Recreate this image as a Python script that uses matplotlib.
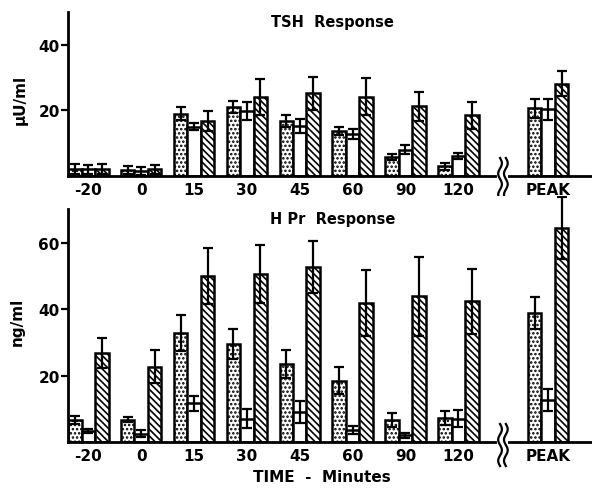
import numpy as np
import matplotlib
matplotlib.use("Agg")
import matplotlib.pyplot as plt

plt.rcParams['font.family'] = ['DejaVu Sans']
plt.rcParams['font.weight'] = 'bold'
plt.rcParams['hatch.linewidth'] = 1.2

# group labels (time points, then the peak response after the axis break)
time_labels = ['-20', '0', '15', '30', '45', '60', '90', '120', 'PEAK']
group_pos = [0, 1, 2, 3, 4, 5, 6, 7, 8.7]
break_pos = 7.79

# TSH response (uU/ml): dotted, open, hatched bars with SE
tsh_dot = [2.2, 1.8, 19.0, 21.1, 16.8, 13.7, 5.8, 2.9, 20.6]
tsh_dot_err = [1.5, 1.3, 1.9, 1.8, 1.8, 1.2, 1.0, 1.2, 2.8]
tsh_open = [2.0, 1.5, 15.0, 19.8, 15.2, 12.7, 8.0, 6.1, 20.3]
tsh_open_err = [1.4, 1.2, 1.1, 2.8, 2.1, 1.5, 1.4, 1.0, 3.1]
tsh_hat = [2.2, 2.0, 16.8, 24.1, 25.2, 24.2, 21.3, 18.5, 28.2]
tsh_hat_err = [1.5, 1.3, 3.0, 5.4, 5.1, 5.7, 4.4, 4.1, 3.9]

# HPr response (ng/ml)
hpr_dot = [6.5, 6.7, 32.7, 29.6, 23.5, 18.5, 6.7, 7.2, 38.7]
hpr_dot_err = [1.2, 0.8, 5.4, 4.5, 4.1, 4.0, 2.1, 2.1, 4.8]
hpr_open = [3.3, 2.5, 11.6, 7.0, 9.1, 3.5, 2.0, 7.0, 12.6]
hpr_open_err = [0.7, 1.0, 2.2, 2.8, 3.3, 1.2, 0.7, 2.6, 3.3]
hpr_hat = [26.8, 22.7, 49.9, 50.6, 52.6, 41.8, 43.8, 42.3, 64.3]
hpr_hat_err = [4.5, 5.1, 8.5, 8.8, 7.8, 9.8, 12.0, 9.8, 9.3]

W, H = 592, 489
fig = plt.figure(figsize=(W / 100, H / 100), dpi=100)
ax1 = fig.add_axes([68 / W, 312 / H, (W - 68) / W, 164 / H])
ax2 = fig.add_axes([68 / W, 46 / H, (W - 68) / W, 246 / H])

bw = 0.255
x = np.array(group_pos)


def draw_panel(ax, dot, dot_err, opn, opn_err, hat, hat_err, ytop, ylim, yticks):
    ek = dict(ecolor='black', elinewidth=1.6, capsize=3.5, capthick=1.6)
    ax.bar(x - bw, dot, bw, color='white', edgecolor='black', linewidth=1.8,
           hatch='....', yerr=dot_err, error_kw=ek, zorder=2)
    ax.bar(x, opn, bw, color='white', edgecolor='black', linewidth=1.8,
           yerr=opn_err, error_kw=ek, zorder=2)
    ax.bar(x + bw, hat, bw, color='white', edgecolor='black', linewidth=1.8,
           hatch='\\\\\\\\\\', yerr=hat_err, error_kw=ek, zorder=2)
    ax.set_xlim(-0.385, 9.53)
    ax.set_ylim(0, ylim)
    ax.spines['top'].set_visible(False)
    ax.spines['right'].set_visible(False)
    ax.spines['left'].set_linewidth(2)
    ax.spines['bottom'].set_linewidth(2)
    ax.spines['left'].set_bounds(0, ytop)
    ax.set_yticks(yticks)
    ax.set_yticklabels([str(t) for t in yticks], fontsize=11, fontweight='bold')
    ax.tick_params(axis='y', direction='out', length=5, width=1.6, pad=1)
    ax.set_xticks(group_pos)
    ax.set_xticklabels(time_labels, fontsize=11, fontweight='bold')
    ax.tick_params(axis='x', length=0, pad=4)

    # axis break: white gap in the baseline and two wavy lines
    hpx = ax.get_position().height * H
    tr = ax.get_xaxis_transform()
    ax.plot([break_pos - 0.02, break_pos + 0.12], [0, 0], color='white',
            lw=3, transform=tr, clip_on=False, zorder=5)
    t = np.linspace(0, 1, 60)
    for dx in (0.0, 0.11):
        yy = (18 - 42 * t) / hpx
        xx = break_pos + dx + 0.035 * np.sin(t * 4 * np.pi)
        ax.plot(xx, yy, color='black', lw=1.6, transform=tr,
                clip_on=False, zorder=6)


draw_panel(ax1, tsh_dot, tsh_dot_err, tsh_open, tsh_open_err,
           tsh_hat, tsh_hat_err, 50, 50, [20, 40])
draw_panel(ax2, hpr_dot, hpr_dot_err, hpr_open, hpr_open_err,
           hpr_hat, hpr_hat_err, 70, 74, [20, 40, 60])

ax1.text(0.504, 0.945, 'TSH  Response', transform=ax1.transAxes,
         ha='center', va='center', fontsize=10.5, fontweight='bold')
ax2.text(0.505, 0.91, 'H Pr  Response', transform=ax2.transAxes,
         ha='center', va='center', fontsize=10.5, fontweight='bold')

fig.text(20 / W, 1 - 100 / H, 'μU/ml', rotation=90, ha='center', va='center',
         fontsize=11, fontweight='bold')
fig.text(17 / W, 1 - 322 / H, 'ng/ml', rotation=90, ha='center', va='center',
         fontsize=11, fontweight='bold')
fig.text(322 / W, 1 - 478 / H, 'TIME  -  Minutes', ha='center', va='center',
         fontsize=11, fontweight='bold')

fig.savefig('out.png', dpi=100)
